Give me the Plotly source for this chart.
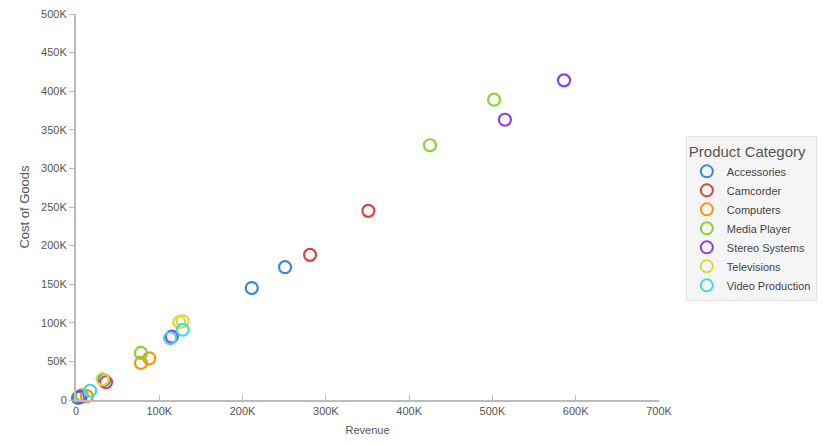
import plotly.graph_objects as go

categories = ["Accessories", "Camcorder", "Computers", "Media Player",
              "Stereo Systems", "Televisions", "Video Production"]
colors = ["#3b86da", "#e0403f", "#f7940f", "#86d431", "#8b3fe0", "#d6dc38", "#3fd8e6"]

revenue = {
    "Accessories": [211000, 251000, 33600, 2400],
    "Camcorder": [281000, 351000, 36000],
    "Computers": [78000, 88000, 13000],
    "Media Player": [425000, 502000, 78000, 7000],
    "Stereo Systems": [586000, 515000, 115000, 5000],
    "Televisions": [124000, 128000, 32000],
    "Video Production": [128000, 113000, 17000],
}
cost = {
    "Accessories": [145000, 172000, 25900, 2600],
    "Camcorder": [188000, 245000, 23000],
    "Computers": [48000, 54000, 5000],
    "Media Player": [330000, 389000, 61000, 6500],
    "Stereo Systems": [414000, 363000, 82000, 4000],
    "Televisions": [101000, 102000, 27000],
    "Video Production": [91000, 80000, 12000],
}

x_ticks = [0, 100000, 200000, 300000, 400000, 500000, 600000, 700000]
x_labels = ["0", "100K", "200K", "300K", "400K", "500K", "600K", "700K"]
y_ticks = list(range(0, 500001, 50000))
y_labels = ["0"] + [f"{v//1000}K" for v in y_ticks[1:]]

fig = go.Figure()
for cat, col in zip(categories, colors):
    fig.add_trace(go.Scatter(
        x=revenue[cat], y=cost[cat], mode="markers", name=cat,
        marker=dict(symbol="circle-open", size=12, color=col, line=dict(width=2.2, color=col)),
        cliponaxis=False,
    ))

font = "Liberation Sans, Arial, sans-serif"
fig.update_layout(
    width=835, height=445,
    margin=dict(l=76, r=176, t=14, b=45, autoexpand=False),
    paper_bgcolor="white", plot_bgcolor="white",
    font=dict(family=font, size=11, color="#555555"),
    showlegend=True,
    legend=dict(
        title=dict(text="Product Category", font=dict(size=15, color="#555555")),
        x=1.046, y=0.683, xanchor="left", yanchor="top",
        bgcolor="#f5f5f5", bordercolor="#e2e2e2", borderwidth=1,
        font=dict(size=11, color="#444444"),
        itemsizing="constant", itemwidth=30,
        tracegroupgap=2,
    ),
    xaxis=dict(
        range=[0, 700000], tickvals=x_ticks, ticktext=x_labels,
        showgrid=False, zeroline=False, showline=True, linecolor="#bbbbbb", linewidth=2,
        ticks="inside", ticklen=5, tickcolor="#bbbbbb", automargin=False,
        title=dict(text="Revenue", font=dict(size=11, color="#555555"), standoff=10),
        tickfont=dict(size=11, color="#555555"),
    ),
    yaxis=dict(
        range=[0, 500000], tickvals=y_ticks, ticktext=y_labels,
        showgrid=False, zeroline=False, showline=True, linecolor="#bbbbbb", linewidth=2,
        ticks="outside", ticklen=5, tickcolor="#bbbbbb", automargin=False,
        title=dict(text="Cost of Goods", font=dict(size=13, color="#555555"), standoff=9),
        tickfont=dict(size=11, color="#555555"),
    ),
)

fig.write_html("out.html", config={"displayModeBar": False},
               post_script="document.body.style.margin='0';")
